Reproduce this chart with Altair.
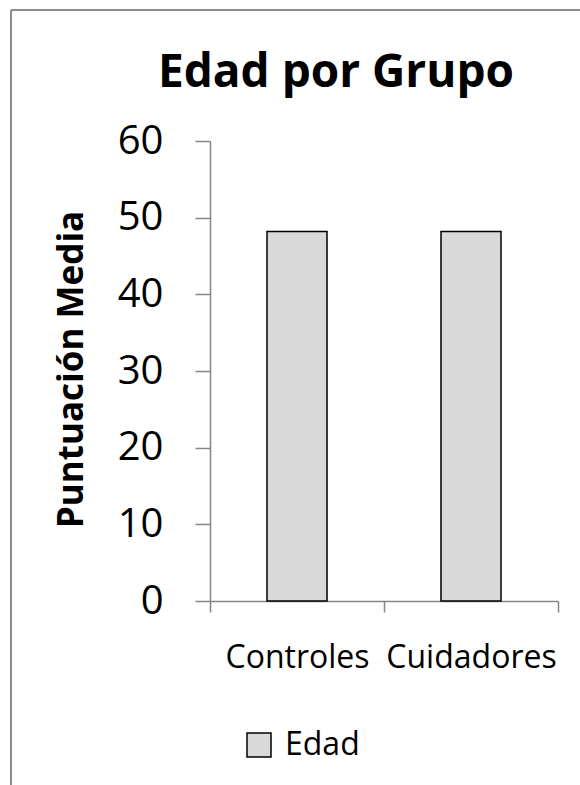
import altair as alt
import pandas as pd

# Data
grupos = ["Controles", "Cuidadores"]
edad = [48.2, 48.2]
serie = ["Edad", "Edad"]
y_ticks = [0, 10, 20, 30, 40, 50, 60]

df = pd.DataFrame({"grupo": grupos, "valor": edad, "serie": serie})

FONT = "Open Sans"
AXIS_GRAY = "#868686"

bars = alt.Chart(df).mark_bar(
    width=60, stroke="black", strokeWidth=1.5
).encode(
    x=alt.X(
        "grupo:N",
        sort=grupos,
        scale=alt.Scale(paddingInner=0, paddingOuter=0),
        axis=alt.Axis(
            title=None,
            labelAngle=0,
            labelFont=FONT,
            labelFontSize=32,
            labelColor="black",
            labelPadding=30,
            tickBand="extent",
            tickSize=11,
            tickColor=AXIS_GRAY,
            tickWidth=1.5,
            domainColor=AXIS_GRAY,
            domainWidth=1.5,
        ),
    ),
    y=alt.Y(
        "valor:Q",
        scale=alt.Scale(domain=[0, 60], nice=False),
        axis=alt.Axis(
            values=y_ticks,
            grid=False,
            title="Puntuación Media",
            titleFont=FONT,
            titleFontSize=35,
            titleFontWeight="bold",
            titleColor="black",
            titleAngle=270,
            titleAlign="center",
            titleBaseline="middle",
            titleX=-139,
            titleY=228,
            labelFont=FONT,
            labelFontSize=40,
            labelColor="black",
            labelPadding=32,
            tickSize=15,
            tickColor=AXIS_GRAY,
            tickWidth=1.5,
            domainColor=AXIS_GRAY,
            domainWidth=1.5,
        ),
    ),
    color=alt.Color(
        "serie:N",
        scale=alt.Scale(domain=["Edad"], range=["#d9d9d9"]),
        legend=alt.Legend(
            title=None,
            orient="none",
            legendX=33,
            legendY=588,
            symbolType="square",
            symbolSize=576,
            symbolStrokeColor="black",
            symbolStrokeWidth=1.5,
            labelFont=FONT,
            labelFontSize=32,
            labelColor="black",
            labelOffset=10,
        ),
    ),
)

# Chart-area border (left and top edges visible in the crop)
border_left = alt.Chart(df).mark_rule(color="#8c8c8c", strokeWidth=2).encode(
    x=alt.value(-199), y=alt.value(-131), y2=alt.value(650)
)
border_top = alt.Chart(df).mark_rule(color="#8c8c8c", strokeWidth=2).encode(
    x=alt.value(-199), x2=alt.value(380), y=alt.value(-131)
)

chart = alt.layer(bars, border_left, border_top).properties(
    width=348,
    height=460,
    background="white",
    padding={"left": 210, "top": 141, "right": 22, "bottom": 184},
    autosize=alt.AutoSizeParams(type="none"),
    title=alt.TitleParams(
        "Edad por Grupo",
        font=FONT,
        fontSize=46,
        fontWeight="bold",
        color="black",
        anchor="middle",
        dx=-48,
        offset=-88,
    ),
).configure_view(stroke="transparent", strokeWidth=0)

chart.save("out.html", embed_options={"renderer": "svg", "actions": False})
